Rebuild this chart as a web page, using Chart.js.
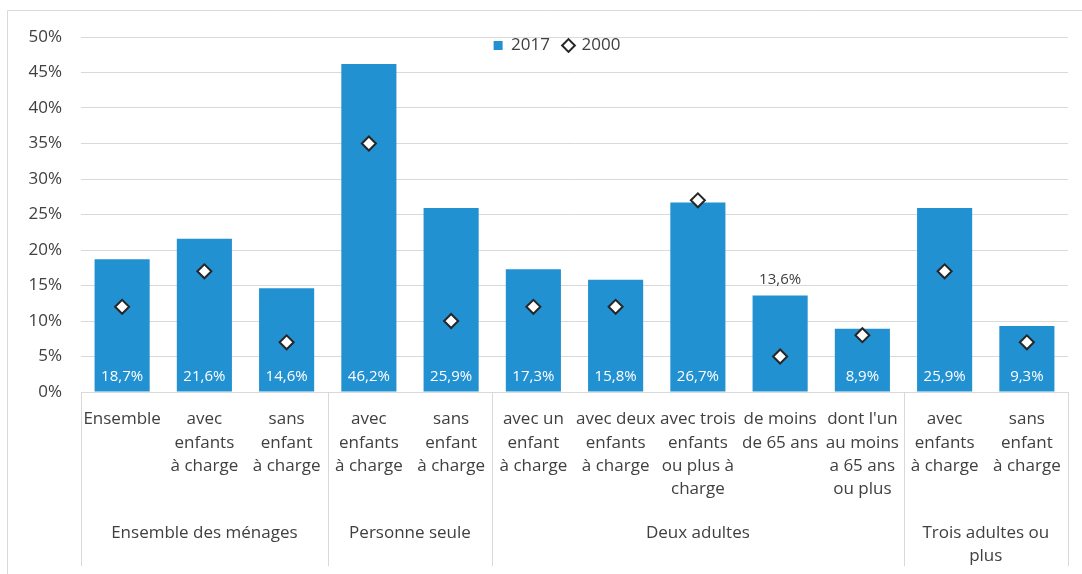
<!DOCTYPE html>
<html>
<head>
<meta charset="utf-8">
<script src="https://cdn.jsdelivr.net/npm/chart.js@4.4.1/dist/chart.umd.min.js"></script>
<style>
  html, body { margin: 0; padding: 0; background: #fff; }
  #wrap { position: relative; width: 1082px; height: 574px; }
</style>
</head>
<body>
<div id="wrap"><canvas id="chart" width="1082" height="574"></canvas></div>
<script>
// Categories (multi-line labels) and groups
const categories = [
    ['Ensemble'], ['avec', 'enfants', 'à charge'], ['sans', 'enfant', 'à charge'],
    ['avec', 'enfants', 'à charge'], ['sans', 'enfant', 'à charge'],
    ['avec un', 'enfant', 'à charge'], ['avec deux', 'enfants', 'à charge'],
    ['avec trois', 'enfants', 'ou plus à', 'charge'], ['de moins', 'de 65 ans'],
    ["dont l'un", 'au moins', 'a 65 ans', 'ou plus'],
    ['avec', 'enfants', 'à charge'], ['sans', 'enfant', 'à charge']
];
const groupLabels = [['Ensemble des ménages'], ['Personne seule'], ['Deux adultes'], ['Trois adultes ou', 'plus']];
const groupSizes = [3, 2, 5, 2];

// Series
const values2017 = [18.7, 21.6, 14.6, 46.2, 25.9, 17.3, 15.8, 26.7, 13.6, 8.9, 25.9, 9.3];
const values2000 = [12, 17, 7, 35, 10, 12, 12, 27, 5, 8, 17, 7];
const labelAbove = [8]; // 13,6% is written above its bar

const FONT = '"Open Sans", "DejaVu Sans", sans-serif';
const GRID = '#d9d9d9';
const TEXT = '#404040';
const BLUE = '#2291d2';

const fmt = v => v.toFixed(1).replace('.', ',') + '%';

// Legend sits inside the plot: no room taken in the layout, then moved by hand
const legendInside = {
    id: 'legendInside',
    beforeInit(chart) {
        const fit = chart.legend.fit;
        chart.legend.fit = function () {
            fit.call(this);
            this.height = 0;
        };
    },
    afterLayout(chart) {
        const lg = chart.legend;
        lg.left = 46;
        lg.right = 1068;
        lg.width = lg.right - lg.left;
        lg.top = 23;
        lg.bottom = 63;
        lg.height = 40;
    }
};

// Frame, group dividers, group names, value labels
const decor = {
    id: 'decor',
    beforeDraw(chart) {
        const ctx = chart.ctx;
        ctx.save();
        ctx.strokeStyle = GRID;
        ctx.lineWidth = 1;
        ctx.beginPath();
        ctx.moveTo(7.5, 574);
        ctx.lineTo(7.5, 10.5);
        ctx.lineTo(1082, 10.5);
        ctx.stroke();
        ctx.restore();
    },
    afterDraw(chart) {
        const ctx = chart.ctx;
        const x = chart.scales.x;
        const area = chart.chartArea;
        ctx.save();
        ctx.strokeStyle = GRID;
        ctx.lineWidth = 1;
        ctx.fillStyle = TEXT;
        ctx.font = '17px ' + FONT;
        ctx.textAlign = 'center';
        ctx.textBaseline = 'middle';

        let start = 0;
        const edges = [area.left];
        groupSizes.forEach((n, g) => {
            const end = start + n - 1;
            const right = end === categories.length - 1
                ? area.right
                : (x.getPixelForValue(end) + x.getPixelForValue(end + 1)) / 2;
            edges.push(right);
            const left = edges[g];
            groupLabels[g].forEach((line, i) => {
                ctx.fillText(line, (left + right) / 2, 533 + i * 23);
            });
            start += n;
        });
        edges.forEach(px => {
            const xx = Math.round(px) + 0.5;
            ctx.beginPath();
            ctx.moveTo(xx, area.bottom);
            ctx.lineTo(xx, 566);
            ctx.stroke();
        });

        // value labels of 2017
        const meta = chart.getDatasetMeta(0);
        ctx.font = '15px ' + FONT;
        meta.data.forEach((bar, i) => {
            if (labelAbove.includes(i)) {
                ctx.fillStyle = TEXT;
                ctx.fillText(fmt(values2017[i]), bar.x, bar.y - 16);
            } else {
                ctx.fillStyle = '#ffffff';
                ctx.fillText(fmt(values2017[i]), bar.x, bar.base - 15);
            }
        });
        ctx.restore();
    }
};

new Chart(document.getElementById('chart'), {
    type: 'bar',
    data: {
        labels: categories,
        datasets: [
            {
                type: 'bar',
                label: '2017',
                data: values2017,
                backgroundColor: BLUE,
                borderColor: BLUE,
                borderWidth: 0,
                categoryPercentage: 1,
                barPercentage: 0.67,
                pointStyle: 'rect',
                order: 2
            },
            {
                type: 'line',
                label: '2000',
                data: values2000,
                showLine: false,
                pointStyle: 'rectRot',
                pointRadius: 7,
                pointBorderWidth: 2,
                pointBackgroundColor: '#ffffff',
                pointBorderColor: '#262626',
                backgroundColor: '#ffffff',
                borderColor: '#262626',
                borderWidth: 1.5,
                order: 1
            }
        ]
    },
    options: {
        responsive: false,
        animation: false,
        events: [],
        layout: { padding: { left: 0, right: 14, top: 37, bottom: 0 } },
        plugins: {
            legend: {
                position: 'top',
                align: 'center',
                labels: {
                    usePointStyle: true,
                    boxWidth: 9,
                    boxHeight: 9,
                    padding: 14,
                    color: TEXT,
                    font: { family: FONT, size: 17 },
                    sort: (a, b) => a.datasetIndex - b.datasetIndex
                }
            },
            tooltip: { enabled: false }
        },
        scales: {
            x: {
                grid: { display: false, drawTicks: false },
                border: { display: false },
                ticks: {
                    autoSkip: false,
                    maxRotation: 0,
                    minRotation: 0,
                    padding: 16,
                    color: TEXT,
                    font: { family: FONT, size: 17, lineHeight: 1.36 }
                },
                afterFit(scale) { scale.height = 182; }
            },
            y: {
                min: 0,
                max: 50,
                grid: { color: GRID, lineWidth: 1, drawTicks: false },
                border: { display: false },
                ticks: {
                    stepSize: 5,
                    padding: 19,
                    color: TEXT,
                    font: { family: FONT, size: 17 },
                    callback: v => v + '%'
                },
                afterFit(scale) { scale.width = 81; }
            }
        }
    },
    plugins: [legendInside, decor]
});
</script>
</body>
</html>
